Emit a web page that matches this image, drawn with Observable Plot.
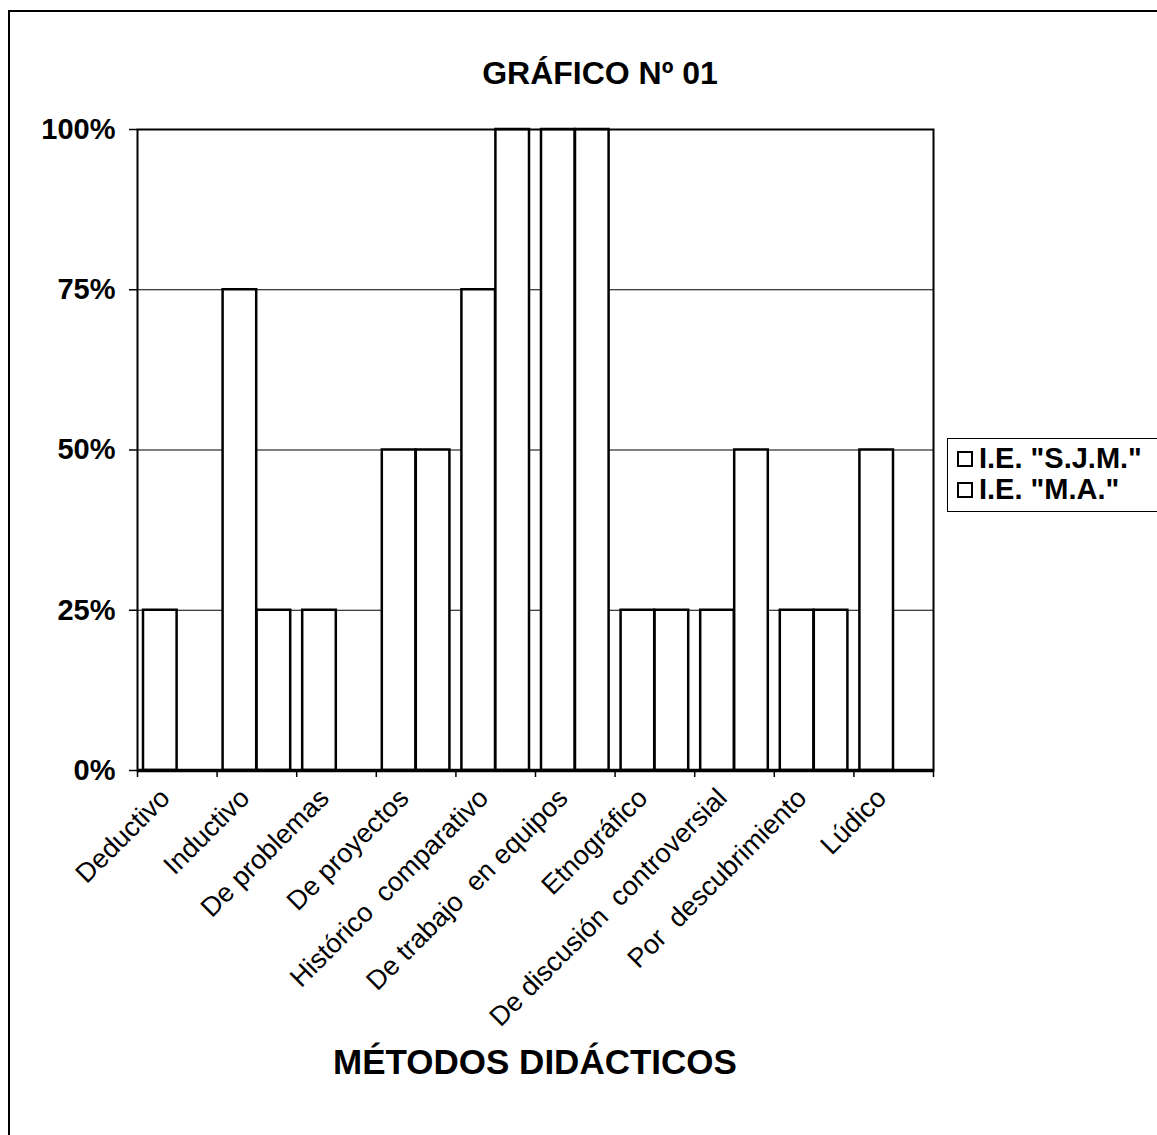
<!DOCTYPE html>
<html>
<head>
<meta charset="utf-8">
<script src="https://cdn.jsdelivr.net/npm/d3@7"></script>
<script src="https://cdn.jsdelivr.net/npm/@observablehq/plot@0.6"></script>
<style>
  html, body { margin: 0; padding: 0; background: #fff; overflow: hidden; }
  #wrap { position: relative; width: 1157px; height: 1135px; font-family: "Liberation Sans", Arial, sans-serif; }
  #border { position: absolute; left: 8px; top: 10px; width: 1200px; height: 1200px; border-left: 2px solid #000; border-top: 2px solid #000; }
  #title { position: absolute; left: 0; width: 1200px; top: 55px; text-align: center; font-weight: bold; font-size: 32px; }
  #xtitle { position: absolute; left: 0; width: 1070px; top: 1042px; text-align: center; font-weight: bold; font-size: 35px; }
  #legend { position: absolute; left: 947px; top: 438px; width: 260px; height: 72px; border: 1.5px solid #000; font-weight: bold; font-size: 29px; }
  .lg { position: absolute; left: 9px; display: flex; align-items: center; white-space: nowrap; }
  .sw { width: 12px; height: 12px; border: 2px solid #000; background: #fff; margin-right: 6px; }
  #chart { position: absolute; left: 0; top: 0; }
</style>
</head>
<body>
<div id="wrap">
  <div id="border"></div>
  <div id="chart"></div>
  <div id="title">GRÁFICO Nº 01</div>
  <div id="xtitle">MÉTODOS DIDÁCTICOS</div>
  <div id="legend"></div>
</div>
<script>
const categories = ["Deductivo", "Inductivo", "De problemas", "De proyectos", "Histórico  comparativo", "De trabajo  en equipos", "Etnográfico", "De discusión  controversial", "Por  descubrimiento", "Lúdico"];
const seriesNames = ['I.E. "S.J.M."', 'I.E. "M.A."'];
const sjm = [0.25, 0.75, 0.25, 0.50, 0.75, 1.00, 0.25, 0.25, 0.25, 0.50];
const ma  = [0.00, 0.25, 0.00, 0.50, 1.00, 1.00, 0.25, 0.50, 0.25, 0.00];
const yTicks = [0, 0.25, 0.5, 0.75, 1];

const rows = categories.map((c, i) => ({cat: c, i0: i, i1: i + 1, mid: i + 0.5, sjm: sjm[i], ma: ma[i]}));

const chart = Plot.plot({
  width: 1157,
  height: 1135,
  marginLeft: 137,
  marginRight: 224,
  marginTop: 129,
  marginBottom: 365,
  style: {fontFamily: "'Liberation Sans', Arial, sans-serif", background: "transparent", overflow: "visible"},
  x: {type: "linear", domain: [0, categories.length], axis: null},
  y: {domain: [0, 1], axis: null},
  marks: [
    Plot.ruleY(yTicks.slice(1), {stroke: "#000", strokeWidth: 1.2}),
    Plot.rect(rows, {x1: "i0", x2: "i1", y1: 0, y2: "sjm", fill: "#fff", stroke: "#000", strokeWidth: 2.5, insetLeft: 6, insetRight: 40}),
    Plot.rect(rows, {x1: "i0", x2: "i1", y1: 0, y2: "ma", fill: "#fff", stroke: "#000", strokeWidth: 2.5, insetLeft: 40, insetRight: 6}),
    Plot.frame({stroke: "#000", strokeWidth: 2}),
    Plot.ruleY([0], {stroke: "#000", strokeWidth: 3.5}),
    Plot.axisY(yTicks, {tickSize: 8, tickPadding: 14, tickFormat: d => Math.round(d * 100) + "%", fontSize: 29, fontWeight: "bold", fill: "#000", strokeWidth: 1.5}),
    Plot.axisX(d3.range(0, categories.length + 1), {tickSize: 7, tickFormat: () => "", strokeWidth: 1.5}),
    Plot.text(rows, {x: "mid", y: 0, text: "cat", rotate: -45, textAnchor: "end", lineAnchor: "middle", dx: -12, dy: 23, fontSize: 27, fill: "#000"})
  ]
});
document.getElementById("chart").appendChild(chart);

const legend = document.getElementById("legend");
seriesNames.forEach((s, k) => {
  const row = document.createElement("div");
  row.className = "lg";
  row.style.top = (3 + k * 31) + "px";
  const sw = document.createElement("div");
  sw.className = "sw";
  const t = document.createElement("span");
  t.textContent = s;
  row.appendChild(sw);
  row.appendChild(t);
  legend.appendChild(row);
});
</script>
</body>
</html>
